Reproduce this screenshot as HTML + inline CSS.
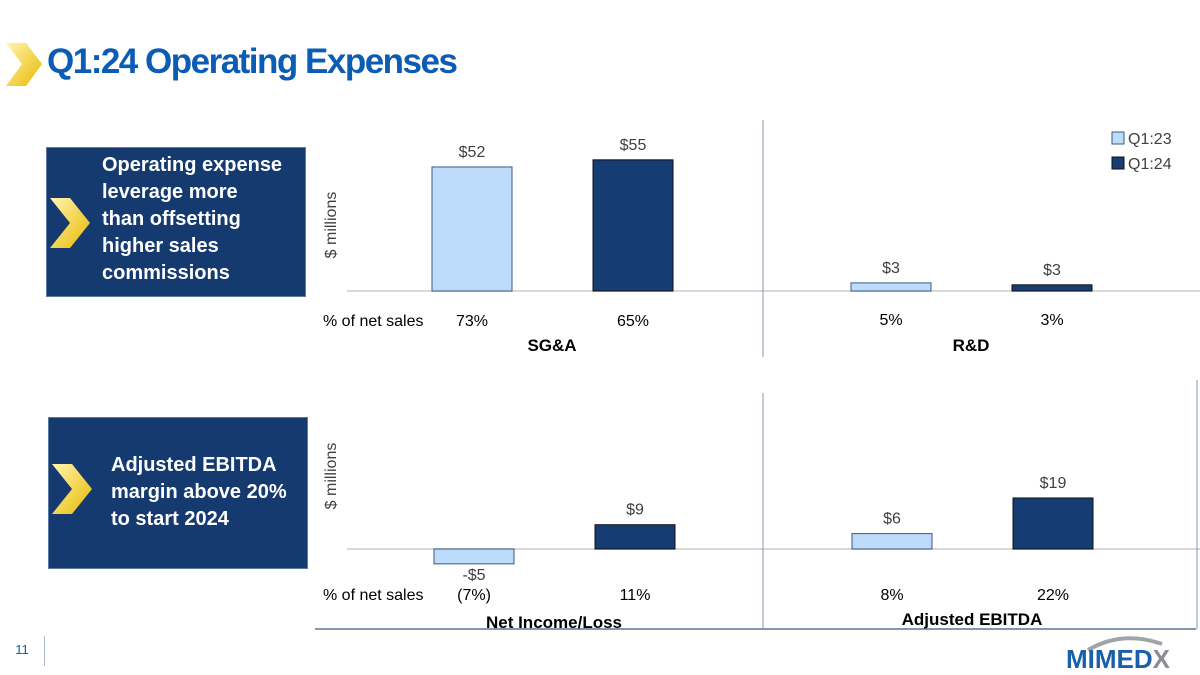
<!DOCTYPE html>
<html><head><meta charset="utf-8"><style>
body{margin:0;width:1200px;height:675px;background:#fff;overflow:hidden;font-family:"Liberation Sans",sans-serif;position:relative}
.box{position:absolute;background:#153a6f;border:1px solid #5a7aa5;color:#fff;font-weight:bold;font-size:20px;line-height:27px}
</style></head><body>
<svg style="position:absolute;left:6px;top:43px" width="36" height="44"><defs><linearGradient id="g" x1="0" y1="0" x2="1" y2="1"><stop offset="0" stop-color="#fff6b0"/><stop offset="1" stop-color="#e8b800"/></linearGradient></defs><polygon points="0,0 20,0 36,21 20,43 0,43 16,21" fill="url(#g)"/></svg>
<div style="position:absolute;left:47px;top:42px;font-size:35px;font-weight:bold;color:#0b5cb5;letter-spacing:-1.5px">Q1:24 Operating Expenses</div>
<div class="box" style="left:46px;top:147px;width:258px;height:148px">
<svg style="position:absolute;left:3px;top:50px" width="40" height="50"><polygon points="0,0 20,0 40,25 20,50 0,50 20,25" fill="url(#g)"/></svg>
<div style="position:absolute;left:55px;top:4px">Operating expense<br>leverage more<br>than offsetting<br>higher sales<br>commissions</div></div>
<div class="box" style="left:48px;top:417px;width:258px;height:150px">
<svg style="position:absolute;left:3px;top:46px" width="40" height="50"><polygon points="0,0 20,0 40,25 20,50 0,50 20,25" fill="url(#g)"/></svg>
<div style="position:absolute;left:62px;top:34px">Adjusted EBITDA<br>margin above 20%<br>to start 2024</div></div>
<div style="position:absolute;left:0;top:636px;width:44px;height:30px;border-right:1px solid #a8b6c8;font-size:13px;color:#0b5cb5;text-align:center;line-height:28px">11</div>
<svg style="position:absolute;left:1062px;top:630px" width="130" height="45"><path d="M26,20 Q60,0 100,14" stroke="#a0a4a8" stroke-width="4" fill="none"/><text x="4" y="38" font-size="26" font-weight="bold" fill="#1a5faa" font-family="Liberation Sans">MIMED<tspan fill="#8a8e92">X</tspan></text></svg>
<svg id="c" width="1200" height="675" style="position:absolute;left:0;top:0" font-family="Liberation Sans,sans-serif"></svg>
<script>
const groups=["SG&A","R&D","Net Income/Loss","Adjusted EBITDA"];
const q123=[52,3.4,-5.5,5.7];
const q124=[55,2.6,9,18.9];
const q123Labels=["$52","$3","-$5","$6"];
const q124Labels=["$55","$3","$9","$19"];
const q123Pct=["73%","5%","(7%)","8%"];
const q124Pct=["65%","3%","11%","22%"];
const svg=document.getElementById('c');const NS="http://www.w3.org/2000/svg";
function mk(t,a,txt){const e=document.createElementNS(NS,t);for(const k in a)e.setAttribute(k,a[k]);if(txt!==undefined)e.textContent=txt;svg.appendChild(e);return e;}
const panels=[{base:291,scale:2.385,x0:432},{base:291,scale:2.385,x0:851},{base:549,scale:2.7,x0:434},{base:549,scale:2.7,x0:852}];
function y(p,v){return p.base-v*p.scale;}
let l;
l=mk('line',{x1:347,y1:291,x2:1200,y2:291,stroke:'#d9d9d9','stroke-width':2});

l=mk('line',{x1:347,y1:549,x2:1200,y2:549,stroke:'#d9d9d9','stroke-width':2});

l=mk('line',{x1:763,y1:120,x2:763,y2:357,stroke:'#8497b0','stroke-width':1});

l=mk('line',{x1:763,y1:393,x2:763,y2:628,stroke:'#8497b0','stroke-width':1});

l=mk('line',{x1:315,y1:629,x2:1196,y2:629,stroke:'#8497b0','stroke-width':2});

l=mk('line',{x1:1197,y1:380,x2:1197,y2:629,stroke:'#8497b0','stroke-width':1});

[[336,225],[336,476]].forEach(([x,yy],i)=>{const t=mk('text',{x:x,y:yy,'font-size':16,fill:'#404040','text-anchor':'middle',transform:`rotate(-90 ${x} ${yy})`},'$ millions');
});
groups.forEach((g,i)=>{const p=panels[i];
 [[q123,'#bddcfb','#3a5a80',q123Labels,q123Pct],[q124,'#153d73','#111',q124Labels,q124Pct]].forEach((s,j)=>{
  const v=s[0][i];const x=p.x0+j*161;const top=Math.min(y(p,v),p.base);const h=Math.abs(y(p,v)-p.base);
  const r=mk('rect',{x:x,y:top,width:80,height:h,fill:s[1],stroke:s[2],'stroke-width':1});
  
  const ly=v>=0?top-10:p.base+h+16;
  const t=mk('text',{x:x+40,y:ly,'font-size':16,fill:'#404040','text-anchor':'middle'},s[3][i]);
  
  const py=i<2?(i==1?325:326):600;
  const t2=mk('text',{x:x+40,y:py,'font-size':16,fill:'#000','text-anchor':'middle'},s[4][i]);
  
 });
 const ty=[351,351,628,625][i];
 const t=mk('text',{x:p.x0+120,y:ty,'font-size':17,'font-weight':'bold',fill:'#000','text-anchor':'middle'},g);
 
});
[[326],[600]].forEach(([yy])=>{const t=mk('text',{x:323,y:yy,'font-size':16,fill:'#000'},'% of net sales');
});
[['Q1:23','#bddcfb','#3a5a80',132],['Q1:24','#153d73','#111',157]].forEach(([n,f,s,yy])=>{
 const r=mk('rect',{x:1112,y:yy,width:12,height:12,fill:f,stroke:s});
 
 const t=mk('text',{x:1128,y:yy+12,'font-size':16,fill:'#404040'},n);
 
});
</script>
</body></html>
